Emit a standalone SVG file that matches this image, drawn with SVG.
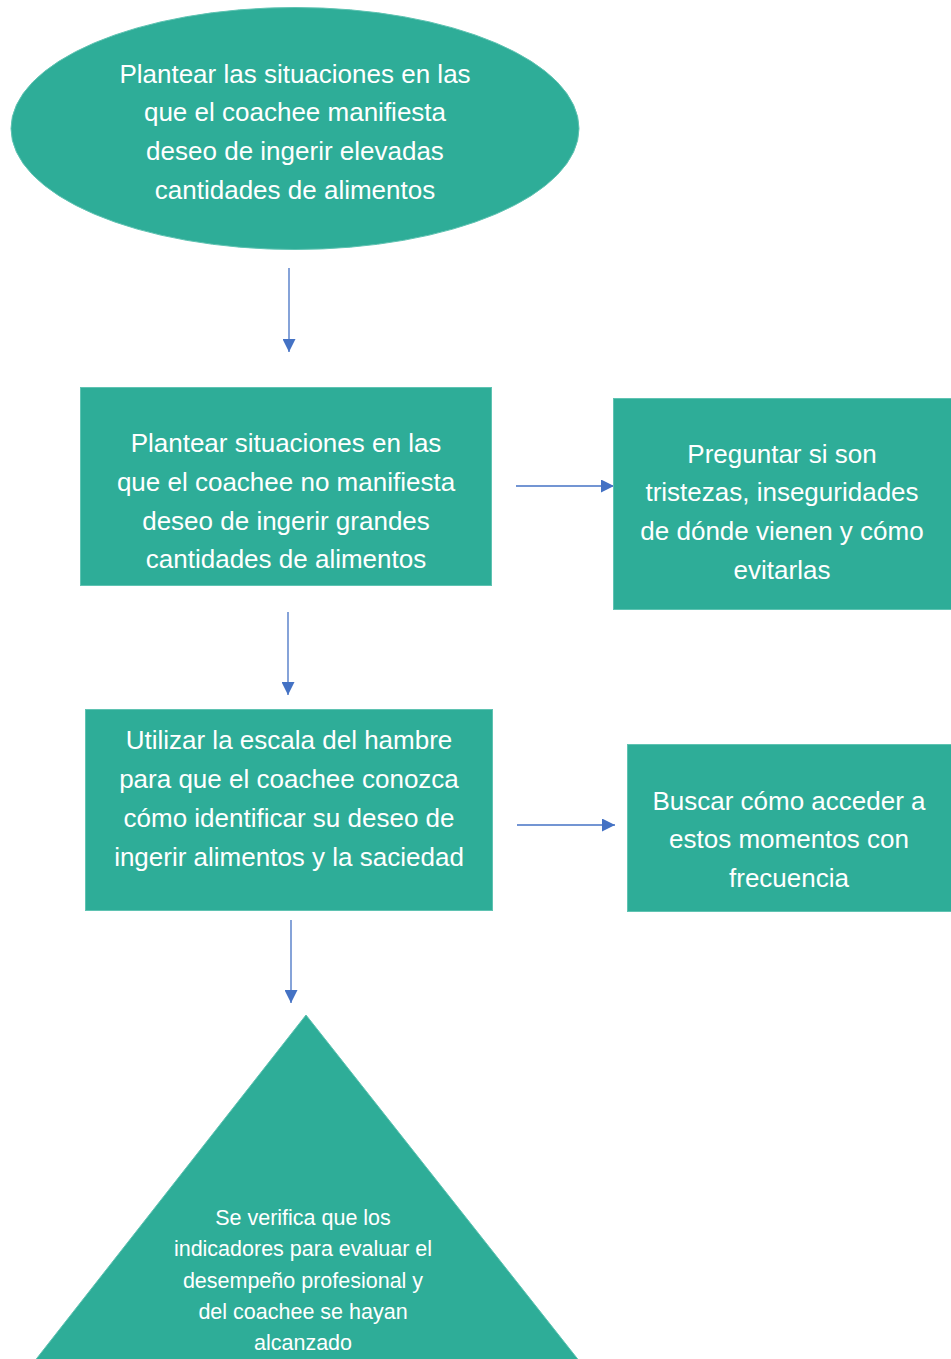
<svg xmlns="http://www.w3.org/2000/svg" width="951" height="1359" viewBox="0 0 951 1359">
<defs>
<style>
.n{fill:#2EAD98;stroke:#5FC3B2;stroke-width:1}
.t{font-family:"Liberation Sans",Arial,sans-serif;font-size:26px;fill:#FFFFFF;text-anchor:middle}
.s{font-family:"Liberation Sans",Arial,sans-serif;font-size:21.5px;fill:#FFFFFF;text-anchor:middle}
.c{stroke:#4472C4;stroke-width:1.3;fill:none;marker-end:url(#ah)}
</style>
<marker id="ah" viewBox="0 0 10 10" refX="10" refY="5" markerWidth="13" markerHeight="13" markerUnits="userSpaceOnUse" orient="auto">
<path d="M0,0 L10,5 L0,10 Z" fill="#4472C4"/>
</marker>
</defs>
<rect width="951" height="1359" fill="#FFFFFF"/>
<g id="connectors">
<line class="c" x1="289" y1="268" x2="289" y2="352"/>
<line class="c" x1="516" y1="486" x2="614" y2="486"/>
<line class="c" x1="288" y1="612" x2="288" y2="695"/>
<line class="c" x1="517" y1="825" x2="615" y2="825"/>
<line class="c" x1="291" y1="920" x2="291" y2="1003"/>
</g>
<g id="start">
<ellipse class="n" cx="295" cy="128.5" rx="284" ry="121"/>
<text class="t" x="295" y="83">Plantear las situaciones en las</text>
<text class="t" x="295" y="121">que el coachee manifiesta</text>
<text class="t" x="295" y="160">deseo de ingerir elevadas</text>
<text class="t" x="295" y="199">cantidades de alimentos</text>
</g>
<g id="box1">
<rect class="n" x="80.5" y="387.5" width="411" height="198"/>
<text class="t" x="286" y="452">Plantear situaciones en las</text>
<text class="t" x="286" y="491">que el coachee no manifiesta</text>
<text class="t" x="286" y="530">deseo de ingerir grandes</text>
<text class="t" x="286" y="568">cantidades de alimentos</text>
</g>
<g id="box2">
<rect class="n" x="613.5" y="398.5" width="340" height="211"/>
<text class="t" x="782" y="463">Preguntar si son</text>
<text class="t" x="782" y="501">tristezas, inseguridades</text>
<text class="t" x="782" y="540">de dónde vienen y cómo</text>
<text class="t" x="782" y="579">evitarlas</text>
</g>
<g id="box3">
<rect class="n" x="85.5" y="709.5" width="407" height="201"/>
<text class="t" x="289" y="749">Utilizar la escala del hambre</text>
<text class="t" x="289" y="788">para que el coachee conozca</text>
<text class="t" x="289" y="827">cómo identificar su deseo de</text>
<text class="t" x="289" y="866">ingerir alimentos y la saciedad</text>
</g>
<g id="box4">
<rect class="n" x="627.5" y="744.5" width="326" height="167"/>
<text class="t" x="789" y="810">Buscar cómo acceder a</text>
<text class="t" x="789" y="848">estos momentos con</text>
<text class="t" x="789" y="887">frecuencia</text>
</g>
<g id="end">
<polygon class="n" points="306,1015 30,1367 584,1367"/>
<text class="s" x="303" y="1225">Se verifica que los</text>
<text class="s" x="303" y="1256">indicadores para evaluar el</text>
<text class="s" x="303" y="1288">desempeño profesional y</text>
<text class="s" x="303" y="1319">del coachee se hayan</text>
<text class="s" x="303" y="1350">alcanzado</text>
</g>
</svg>
